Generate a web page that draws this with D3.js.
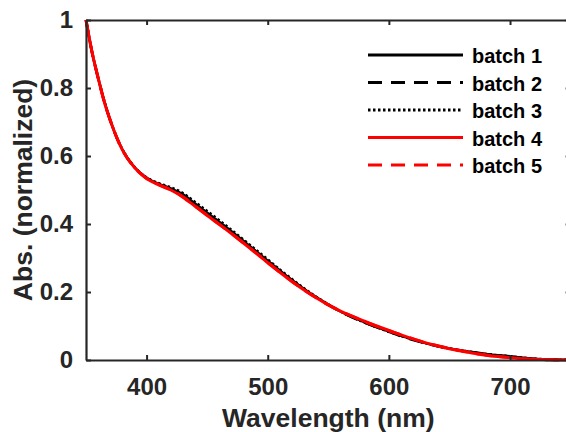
<!DOCTYPE html>
<html><head><meta charset="utf-8">
<script src="https://cdn.jsdelivr.net/npm/d3@7"></script>
<style>html,body{margin:0;padding:0;background:#fff;overflow:hidden}svg{display:block}</style>
</head><body>
<svg id="c" width="566" height="432"></svg>
<script>
const wavelengths = [350,355,360,365,370,380,390,400,410,420,430,440,450,460,470,480,490,500,510,520,530,540,550,560,570,580,590,600,610,620,630,640,650,660,670,680,690,700,710,720,730,740,750];
const batch1 = [1.000,0.905,0.830,0.762,0.705,0.619,0.567,0.536,0.518,0.505,0.487,0.460,0.433,0.406,0.379,0.350,0.321,0.292,0.263,0.235,0.209,0.185,0.163,0.143,0.126,0.111,0.097,0.084,0.071,0.060,0.050,0.041,0.034,0.028,0.023,0.018,0.014,0.011,0.007,0.004,0.002,0.001,0.000];
const batch2 = [1.000,0.904,0.829,0.761,0.704,0.618,0.567,0.535,0.517,0.504,0.486,0.459,0.432,0.405,0.378,0.349,0.320,0.291,0.262,0.234,0.208,0.184,0.162,0.142,0.125,0.110,0.096,0.083,0.070,0.059,0.049,0.040,0.033,0.027,0.022,0.017,0.013,0.010,0.006,0.003,0.002,0.001,0.000];
const batch3 = [1.000,0.906,0.831,0.763,0.706,0.620,0.568,0.537,0.520,0.508,0.491,0.465,0.438,0.411,0.383,0.354,0.325,0.296,0.266,0.238,0.211,0.186,0.164,0.143,0.126,0.110,0.096,0.083,0.071,0.060,0.050,0.041,0.034,0.028,0.023,0.018,0.014,0.011,0.007,0.004,0.002,0.001,0.000];
const batch4 = [1.000,0.905,0.830,0.760,0.705,0.618,0.566,0.534,0.515,0.500,0.479,0.452,0.425,0.399,0.372,0.344,0.315,0.286,0.258,0.231,0.206,0.183,0.162,0.144,0.128,0.114,0.100,0.087,0.074,0.062,0.051,0.042,0.033,0.026,0.020,0.014,0.010,0.007,0.004,0.002,0.001,0.000,0.000];
const batch5 = [1.000,0.905,0.830,0.761,0.705,0.618,0.566,0.534,0.516,0.501,0.480,0.453,0.426,0.399,0.372,0.344,0.316,0.287,0.258,0.231,0.206,0.183,0.162,0.144,0.128,0.113,0.099,0.086,0.074,0.062,0.051,0.042,0.034,0.027,0.020,0.015,0.010,0.007,0.004,0.002,0.001,0.000,0.000];
const seriesNames = ["batch 1","batch 2","batch 3","batch 4","batch 5"];
const seriesValues = [batch1,batch2,batch3,batch4,batch5];
const xTicks = [400,500,600,700];
const yTicks = [0,0.2,0.4,0.6,0.8,1];
const yTickLabels = ["0","0.2","0.4","0.6","0.8","1"];
const xTitle = "Wavelength (nm)";
const yTitle = "Abs. (normalized)";

const styles = [
  {color:"#000", dash:null, w:2.5},
  {color:"#000", dash:"14,9", w:2.5},
  {color:"#000", dash:"2.5,2.5", w:2.5},
  {color:"#ff0000", dash:null, w:3},
  {color:"#ff0000", dash:"14,9", w:3}
];

const svg = d3.select("#c");
const L=86, R=570.6, T=20, B=360;
const x = d3.scaleLinear().domain([350,750]).range([L,R]);
const y = d3.scaleLinear().domain([0,1]).range([B,T]);
const axisColor = "#262626";
const font = "'Liberation Sans', Arial, sans-serif";

// curves
const line = d3.line().x((d,i)=>x(wavelengths[i])).y(d=>y(d)).curve(d3.curveMonotoneX);
const g = svg.append("g");
seriesValues.forEach((vals,k)=>{
  g.append("path").attr("d", line(vals)).attr("fill","none")
   .attr("stroke", styles[k].color).attr("stroke-width", styles[k].w)
   .attr("stroke-dasharray", styles[k].dash)
   .attr("stroke-linejoin","round");
});

// axes
function styleAxis(sel){
  sel.select(".domain").attr("stroke", axisColor).attr("stroke-width",2.2);
  sel.selectAll(".tick line").attr("stroke", axisColor).attr("stroke-width",2);
  sel.selectAll(".tick text").attr("fill", axisColor).attr("font-family", font)
     .attr("font-weight","bold").attr("font-size","24px");
}
const xAxis = svg.append("g").attr("transform",`translate(0,${B})`)
  .call(d3.axisBottom(x).tickValues(xTicks).tickSizeInner(-5).tickSizeOuter(0).tickPadding(12).tickFormat(d3.format("d")));
styleAxis(xAxis);
xAxis.selectAll(".tick text").attr("dy","0.71em").attr("y",18);
const xTop = svg.append("g").attr("transform",`translate(0,${T})`)
  .call(d3.axisTop(x).tickValues(xTicks).tickSizeInner(-5).tickSizeOuter(0).tickFormat(""));
styleAxis(xTop);
const yAxis = svg.append("g").attr("transform",`translate(${L},0)`)
  .call(d3.axisLeft(y).tickValues(yTicks).tickSizeInner(-5).tickSizeOuter(0).tickPadding(13)
  .tickFormat((d,i)=>yTickLabels[i]));
styleAxis(yAxis);
const yRight = svg.append("g").attr("transform",`translate(${R},0)`)
  .call(d3.axisRight(y).tickValues(yTicks).tickSizeInner(-5).tickSizeOuter(0).tickFormat(""));
styleAxis(yRight);

// titles
svg.append("text").attr("x",(L+R)/2).attr("y",427).attr("text-anchor","middle")
  .attr("font-family",font).attr("font-weight","bold").attr("font-size","26.5px").attr("fill",axisColor).text(xTitle);
svg.append("text").attr("transform",`translate(32,${(T+B)/2}) rotate(-90)`).attr("text-anchor","middle")
  .attr("font-family",font).attr("font-weight","bold").attr("font-size","26.5px").attr("fill",axisColor).text(yTitle);

// legend
const lg = svg.append("g");
seriesNames.forEach((n,k)=>{
  const yy = 55 + k*27.5;
  lg.append("line").attr("x1",368).attr("x2",463).attr("y1",yy).attr("y2",yy)
    .attr("stroke",styles[k].color).attr("stroke-width",3)
    .attr("stroke-dasharray",styles[k].dash);
  lg.append("text").attr("x",472).attr("y",yy+8).attr("font-family",font).attr("font-weight","bold")
    .attr("font-size","20px").attr("fill","#000").text(n);
});
</script>
</body></html>
